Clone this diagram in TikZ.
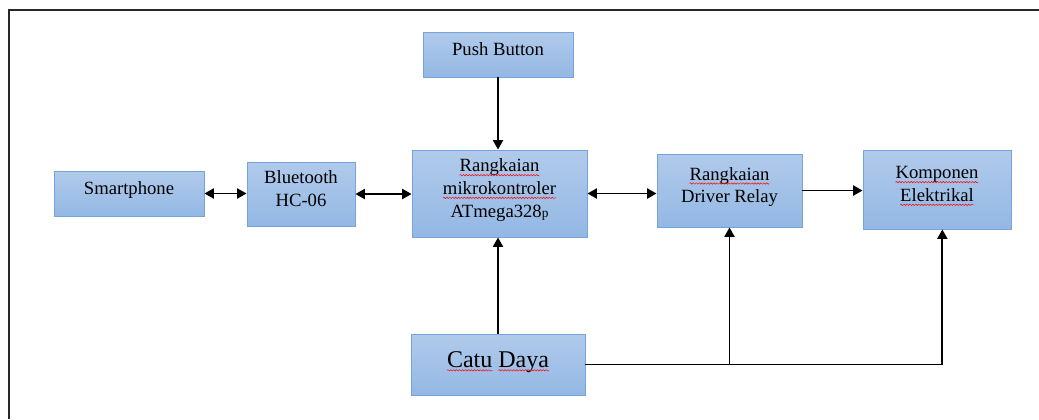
\documentclass[tikz,border=0pt]{standalone}
\usepackage{fontspec}
\setmainfont{Liberation Serif}
\usetikzlibrary{arrows.meta}
\usetikzlibrary{decorations.pathmorphing}

\definecolor{boxtop}{RGB}{177,202,235}
\definecolor{boxbot}{RGB}{147,184,228}
\definecolor{boxline}{RGB}{118,163,219}
\definecolor{framegray}{RGB}{40,40,40}

\newcommand{\salah}[1]{\tikz[baseline=(w.base)]{\node[inner sep=0pt,outer sep=0pt,minimum width=0pt,minimum height=0pt,text depth=,text height=](w){#1};\draw[overlay,red,line width=0.35pt,decorate,decoration={snake,amplitude=0.55pt,segment length=2.2pt}] ([yshift=-2.4pt]w.base west) -- ([yshift=-2.4pt]w.base east);}}

\begin{document}
\begin{tikzpicture}[x=0.75pt,y=-0.75pt]
   \tikzset{blok/.style={draw=boxline, line width=0.7pt, top color=boxtop, bottom color=boxbot, align=center, inner sep=0pt, font=\fontsize{14}{17}\selectfont, text depth=8pt}}
   \tikzset{panah/.style={line width=1.4pt, -{Triangle[length=7pt,width=7.5pt]}}}
   \tikzset{duaarah/.style={line width=1.4pt, {Triangle[length=7pt,width=7.5pt]}-{Triangle[length=7pt,width=7.5pt]}}}
   \useasboundingbox (0,0) rectangle (1039,419);
   \draw[framegray, line width=1.1pt] (9,419) -- (9,10) -- (1039,10);
   \node[blok, minimum width=112.5pt, minimum height=33.75pt] (push) at (498,54.5) {Push Button};
   \node[blok, minimum width=112.5pt, minimum height=33.75pt] (hp) at (129,193.5) {Smartphone};
   \node[blok, minimum width=81pt, minimum height=48pt] (bt) at (301,194) {Bluetooth\\HC-06};
   \node[blok, minimum width=131.25pt, minimum height=65.25pt] (mcu) at (499.5,193.5) {\salah{Rangkaian}\\\salah{mikrokontroler}\\ATmega328{\fontsize{10}{12}\selectfont p}};
   \node[blok, minimum width=108.75pt, minimum height=54.75pt] (relay) at (729.5,190.5) {\salah{Rangkaian}\\Driver Relay};
   \node[blok, minimum width=111pt, minimum height=59.25pt] (beban) at (937,189.5) {\salah{Komponen}\\\salah{Elektrikal}};
   \node[blok, minimum width=130.5pt, minimum height=45.75pt, font=\fontsize{18}{21}\selectfont] (catu) at (498,364.5) {\salah{Catu} \salah{Daya}};
   \draw[duaarah] (hp.east) -- (hp.east -| bt.west);
   \draw[duaarah] (bt.east) -- (bt.east -| mcu.west);
   \draw[duaarah] (mcu.east) -- (mcu.east -| relay.west);
   \draw[panah] (relay.east) -- (relay.east -| beban.west);
   \draw[panah] (push.south) -- (push.south |- mcu.north);
   \draw[panah] (catu.north) -- (catu.north |- mcu.south);
   \draw[panah] (catu.east) -| (relay.south);
   \draw[panah] (catu.east) -| ([xshift=4pt]beban.south);
\end{tikzpicture}
\end{document}
